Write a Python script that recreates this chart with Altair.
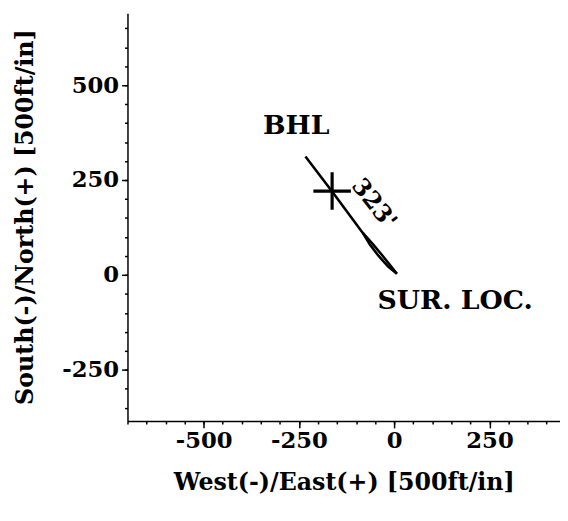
import altair as alt
import pandas as pd

# Well path (ft): surface location at (0, 0), bottom hole toward NW
path_x = [7, -8, -30, -55, -82, -163, -233]
path_y = [3, 22, 50, 80, 110, 220, 312]
# second trace near the surface (gives the thick sliver)
lens_x = [7, -16, -41, -64, -82]
lens_y = [3, 22, 50, 80, 110]

bhl_x, bhl_y = -163, 221

label_text = ["BHL", "SUR. LOC."]
label_x = [-257, 160]
label_y = [393, -70]

md_text = ["323'"]
md_x = [-54]
md_y = [187]

x_major = [-500, -250, 0, 250]
y_major = [-250, 0, 250, 500]
x_minor = list(range(-700, 451, 50))
y_minor = list(range(-350, 701, 50))

x_dom = [-700, 435]
y_dom = [-385, 690]

FONT = "DejaVu Serif"
FW = "bold"

path_df = pd.DataFrame({
    "x": path_x + lens_x,
    "y": path_y + lens_y,
    "trace": ["a"] * len(path_x) + ["b"] * len(lens_x),
    "order": list(range(len(path_x))) + list(range(len(lens_x))),
})

xs = alt.Scale(domain=x_dom, nice=False, zero=False)
ys = alt.Scale(domain=y_dom, nice=False, zero=False)

x_axis = alt.Axis(
    orient="bottom", values=x_major, tickSize=7,
    labelExpr="'' + datum.value",
    title="West(-)/East(+) [500ft/in]",
    labelOverlap=False, labelFlush=False, grid=False,
    labelPadding=2, titleY=62, titleBaseline="middle",
)
y_axis = alt.Axis(
    orient="left", values=y_major, tickSize=6,
    labelExpr="'' + datum.value",
    title="South(-)/North(+) [500ft/in]",
    labelOverlap=False, labelFlush=False, grid=False,
    labelPadding=3,
    titleX=-103, titleY=206, titleBaseline="middle", titleAlign="center", titleAngle=270,
)
x_axis_minor = alt.Axis(
    orient="bottom", values=x_minor, tickSize=3, labels=False, domain=False,
    title=None, grid=False,
)
y_axis_minor = alt.Axis(
    orient="left", values=y_minor, tickSize=3, labels=False, domain=False,
    title=None, grid=False,
)

lines = alt.Chart(path_df).mark_line(color="black", strokeWidth=2.6).encode(
    x=alt.X("x:Q", scale=xs, axis=x_axis),
    y=alt.Y("y:Q", scale=ys, axis=y_axis),
    detail="trace:N", order="order:Q",
)

cross = alt.Chart(pd.DataFrame({"x": [bhl_x], "y": [bhl_y]})).mark_point(
    shape="M-1,0L1,0M0,-1L0,1", size=1444, strokeWidth=3.2, color="black",
    filled=False, opacity=1,
).encode(
    x=alt.X("x:Q", scale=xs, axis=x_axis_minor),
    y=alt.Y("y:Q", scale=ys, axis=y_axis_minor),
)

labels = alt.Chart(pd.DataFrame({"t": label_text, "x": label_x, "y": label_y})).mark_text(
    font=FONT, fontSize=27, fontWeight=FW, color="black", align="center", baseline="middle"
).encode(
    x=alt.X("x:Q", scale=xs, axis=None),
    y=alt.Y("y:Q", scale=ys, axis=None),
    text="t:N",
)

md = alt.Chart(pd.DataFrame({"t": md_text, "x": md_x, "y": md_y})).mark_text(
    font=FONT, fontSize=24, fontWeight=FW, color="black", align="center", baseline="middle", angle=52
).encode(
    x=alt.X("x:Q", scale=xs, axis=None),
    y=alt.Y("y:Q", scale=ys, axis=None),
    text="t:N",
)

chart = alt.layer(lines, cross, labels, md).resolve_axis(
    x="independent", y="independent"
).properties(
    width=438, height=413,
    autosize=alt.AutoSizeParams(type="none"),
    padding={"left": 121, "top": 2, "right": 0, "bottom": 90},
    background="white",
).configure_view(stroke=None).configure_axis(
    domainColor="black", domainWidth=1.5, tickColor="black", tickWidth=1.5,
    labelFont=FONT, labelFontSize=23, labelFontWeight=FW, labelColor="black",
    titleFont=FONT, titleFontSize=24, titleFontWeight=FW, titleColor="black",
)

chart.save("out.html", embed_options={"renderer": "svg", "actions": False})
